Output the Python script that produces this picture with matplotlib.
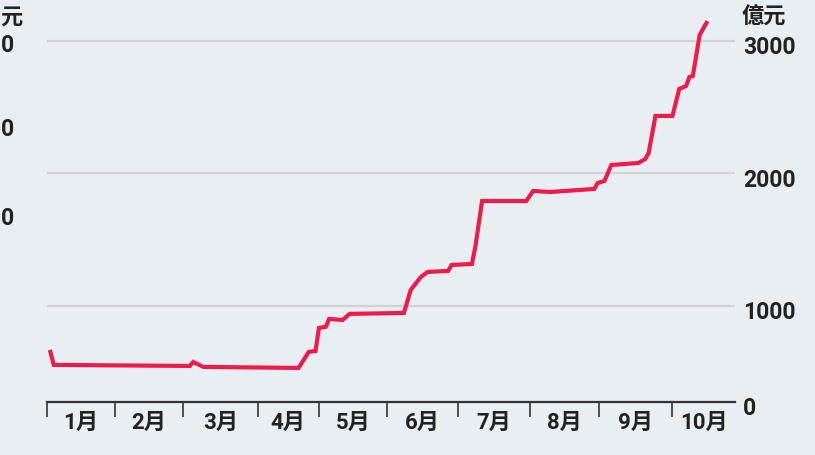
import matplotlib.pyplot as plt
from matplotlib.transforms import ScaledTranslation

# trading-day index since 1 Jan and cumulative amount (億元)
days = [1, 2, 42, 43, 46, 74, 77, 79, 80, 82, 83, 87, 89, 105, 107, 110, 112,
        118, 119, 125, 126, 128, 141, 143, 148, 161, 162, 164, 166, 174, 176,
        177, 179, 184, 186, 188, 189, 190, 192, 194]
values = [653, 555, 547, 577, 540, 532, 653, 660, 834, 842, 902, 894, 940, 947,
          1121, 1219, 1257, 1264, 1309, 1317, 1445, 1792, 1792, 1868, 1860,
          1883, 1928, 1943, 2064, 2079, 2109, 2155, 2434, 2434, 2638, 2660,
          2728, 2736, 3045, 3136]

month_starts = [0, 20, 40, 62, 80, 100, 121, 142, 162.5, 184]
month_labels = ['1月', '2月', '3月', '4月', '5月', '6月', '7月', '8月', '9月', '10月']
x_end = 202.4

grid_values = [1000, 2000, 3000]
y_bottom, y_top = 275, 3309

BG = '#e9eef2'
RED = '#ee1c4a'
INK = '#222222'
FONT = ['Roboto', 'Noto Sans CJK TC', 'DejaVu Sans']

fig = plt.figure(figsize=(8.15, 4.55), dpi=100, facecolor=BG)
ax = fig.add_axes([47 / 815, 53 / 455, (735 - 47) / 815, 402 / 455])
ax.set_facecolor(BG)

for g in grid_values:
    ax.axhline(g, color='#cfd3d7', lw=1.6, zorder=1)

ax.plot(days, values, color=RED, lw=3.0, solid_joinstyle='miter', zorder=3)

ax.set_xlim(0, x_end)
ax.set_ylim(y_bottom, y_top)

for s in ['top', 'left', 'right']:
    ax.spines[s].set_visible(False)
ax.spines['bottom'].set_color('#333333')
ax.spines['bottom'].set_linewidth(1.6)

# month boundaries as ticks, labels centred between them
ax.set_xticks(month_starts)
ax.set_xticklabels([])
ax.tick_params(axis='x', which='major', direction='out', length=10.5,
               width=1.2, color='#333333')
mids = [(a + b) / 2 for a, b in zip(month_starts, month_starts[1:] + [x_end])]
ax.set_xticks(mids, minor=True)
ax.set_xticklabels(month_labels, minor=True, family=FONT, fontweight='bold',
                   fontsize=16, color=INK)
ax.tick_params(axis='x', which='minor', length=0, pad=7)

# right-hand value axis; "0" sits at the axis line
ax.yaxis.tick_right()
ax.set_yticks([y_bottom] + grid_values)
ax.set_yticklabels(['0', '1000', '2000', '3000'], family=FONT,
                   fontweight='bold', fontsize=16.5, color=INK)
ax.tick_params(axis='y', length=0, pad=6)
for lab in ax.get_yticklabels():
    lab.set_transform(lab.get_transform() +
                      ScaledTranslation(0, -3 / 72, fig.dpi_scale_trans))

fig.text(742 / 815, 1 - 18 / 455, '億元', family=FONT, fontweight='bold',
         fontsize=16, color=INK, ha='left', va='center')

# what shows of the neighbouring panel's axis at the left edge
fig.text(0, 1 - 18 / 455, '元', family=FONT, fontweight='bold',
         fontsize=16, color=INK, ha='left', va='center')
for yy in [45, 130, 218]:
    fig.text(1 / 815, 1 - yy / 455, '0', family=FONT, fontweight='bold',
             fontsize=16.5, color=INK, ha='left', va='center')

fig.savefig('out.png', dpi=100, facecolor=BG)
